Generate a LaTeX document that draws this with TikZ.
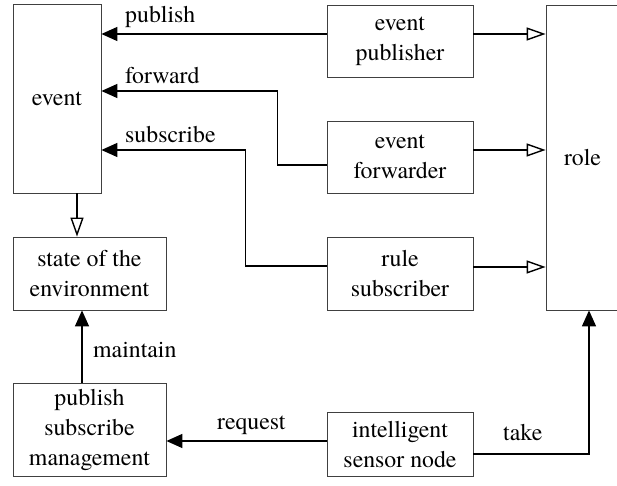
\documentclass[tikz,border=0pt]{standalone}
\usepackage{fontspec}
\setmainfont{texgyretermes-regular.otf}
\usetikzlibrary{positioning,calc,arrows.meta}

\begin{document}
\begin{tikzpicture}[x=1pt,y=1pt]
	\tikzset{
		boxnode/.style={
			draw=black!75,
			line width=0.8pt,
			fill=white,
			align=center,
			inner sep=0pt,
			font=\fontsize{23.8}{30}\selectfont,
			text=black
		},
		flowedge/.style={draw=black,line width=1.4pt,-{Triangle[length=16pt,width=14pt]}},
		roleedge/.style={draw=black,line width=1.4pt,-{Triangle[open,length=19pt,width=13pt,fill=white]}},
		lbl/.style={anchor=base west,inner sep=0pt,font=\fontsize{23.8}{30}\selectfont}
	}
	\useasboundingbox (0,0) rectangle (617,486);
	
	\node[boxnode, minimum width=88pt, minimum height=189pt] (ev) at (57,387.5) {event};
	\node[boxnode, minimum width=153pt, minimum height=73pt] (st) at (89.5,212.5) {state of the\\environment};
	\node[boxnode, minimum width=153pt, minimum height=93pt] (psm) at (89.5,56.5) {publish\\subscribe\\management};
	\node[boxnode, minimum width=146pt, minimum height=72pt] (pub) at (400,445) {event\\publisher};
	\node[boxnode, minimum width=146pt, minimum height=72pt] (fwd) at (400,329) {event\\forwarder};
	\node[boxnode, minimum width=146pt, minimum height=73pt] (rule) at (400,212.5) {rule\\subscriber};
	\node[boxnode, minimum width=146pt, minimum height=64pt] (isn) at (400,42) {intelligent\\sensor node};
	\node[boxnode, minimum width=73pt, minimum height=305pt] (role) at (582.5,328.5) {role};
	
	\draw[flowedge] ([yshift=7pt]pub.west) -- ([yshift=64.5pt]ev.east);
	\draw[flowedge] ([yshift=-8pt]fwd.west) -- ++(-49,0) |- ([yshift=7.5pt]ev.east);
	\draw[flowedge] ([yshift=7.5pt]rule.west) -- ++(-81,0) |- ([yshift=-51.5pt]ev.east);
	
	\draw[roleedge] ([yshift=7pt]pub.east) -- ([yshift=123.5pt]role.west);
	\draw[roleedge] ([yshift=7pt]fwd.east) -- ([yshift=7.5pt]role.west);
	\draw[roleedge] ([yshift=6.5pt]rule.east) -- ([yshift=-109.5pt]role.west);
	\draw[roleedge] ([xshift=20pt]ev.south) -- ([xshift=20pt]ev.south |- st.north);
	
	\draw[flowedge] ([xshift=-7.5pt]psm.north) -- ([xshift=-7.5pt]psm.north |- st.south);
	\draw[flowedge] ([yshift=3pt]isn.west) -- ([yshift=-11.5pt]psm.east);
	\draw[flowedge] ([yshift=-10pt]isn.east) -| ([xshift=6.5pt]role.south);
	
	\node[lbl] (lpublish) at (125,463) {publish};
	\node[lbl] (lforward) at (125,402) {forward};
	\node[lbl] (lsubscribe) at (125,343) {subscribe};
	\node[lbl] (lmaintain) at (93,128) {maintain};
	\node[lbl] (lrequest) at (217,56) {request};
	\node[lbl] (ltake) at (503,45) {take};
\end{tikzpicture}
\end{document}
